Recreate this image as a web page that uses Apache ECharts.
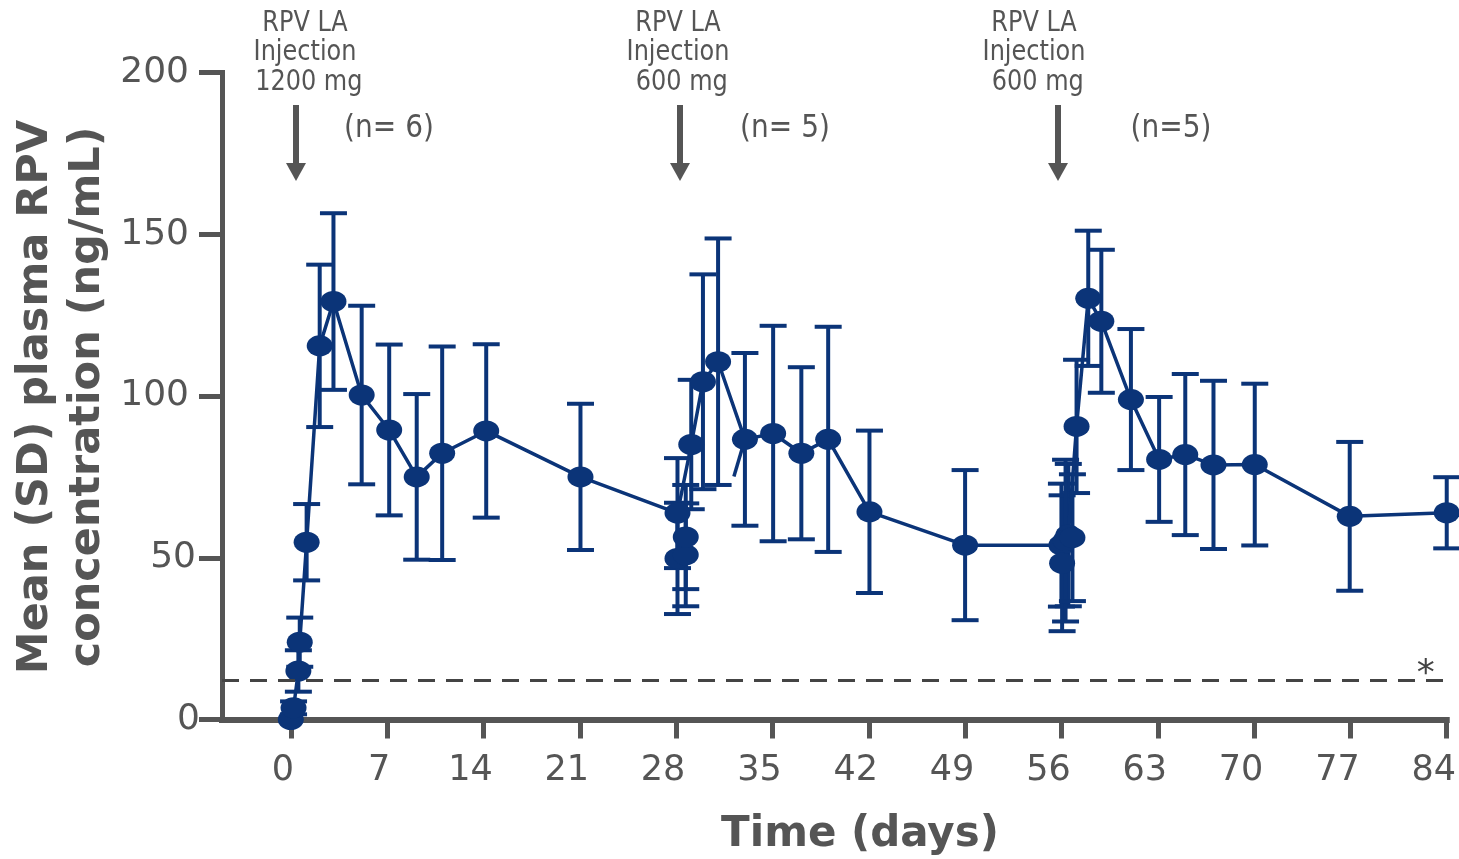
<!DOCTYPE html>
<html>
<head>
<meta charset="utf-8">
<script src="https://cdn.jsdelivr.net/npm/echarts@6/dist/echarts.min.js"></script>
<style>
  html, body { margin: 0; padding: 0; background: #ffffff; }
  #chart { width: 1459px; height: 859px; }
</style>
</head>
<body>
<div id="chart"></div>
<script>
// Mean (SD) plasma rilpivirine concentration after long-acting injections
const days = [0, 0.2, 0.55, 0.65, 1.15, 2.1, 3.1, 5.15, 7.15, 9.15, 11.0, 14.2, 21.05,
  28.1, 29.1, 29.95, 31.05, 33.0, 35.05, 37.1, 39.05, 42.05, 49.0,
  56.0, 56.5, 57.1, 57.95, 58.9, 61.05, 63.1, 65.0, 67.05, 70.05, 76.95, 84.0];
const meanConc = [0, 3.6, 15.0, 23.9, 54.8, 115.5, 129.2, 100.3, 89.5, 75.0, 82.3, 89.2, 75.0,
  63.8, 85.0, 104.4, 110.6, 86.6, 88.4, 82.3, 86.6, 64.2, 53.9,
  53.9, 57.0, 90.6, 130.2, 123.1, 98.9, 80.4, 81.9, 78.7, 78.8, 62.8, 63.9];
const sdConc = [0, 2.0, 6.4, 7.6, 11.8, 25.1, 27.3, 27.6, 26.4, 25.6, 33.0, 26.8, 22.6,
  17.0, 20.0, 33.2, 38.1, 26.7, 33.3, 26.6, 34.8, 25.1, 23.2,
  19.0, 22.0, 20.6, 20.9, 22.1, 21.8, 19.3, 24.9, 26.0, 25.0, 23.0, 11.0];

// Additional early post-dose samples around the second and third injections
const extraDays = [28.1, 28.7, 28.7, 56.05, 56.3, 56.8];
const extraConc = [49.8, 50.9, 56.4, 48.3, 55.3, 56.2];
const extraSd = [17.2, 15.9, 16.1, 21.0, 25.0, 19.6];

// Short connecting segment before day 33
const stubDays = [32.2, 33.0];
const stubConc = [75.1, 86.6];

const xTickValues = [0, 7, 14, 21, 28, 35, 42, 49, 56, 63, 70, 77, 84];
const thresholdConc = 12;

const injectionLabels = ['RPV LA\nInjection\n 1200 mg', 'RPV LA\nInjection\n 600 mg', 'RPV LA\nInjection\n 600 mg'];
const cohortLabels = ['(n= 6)', '(n= 5)', '(n=5)'];

// Layout for the injection annotations (pixels)
const annotLayout = [
  { textX: 305, arrowX: 296, nX: 389 },
  { textX: 678, arrowX: 680, nX: 785 },
  { textX: 1034, arrowX: 1058, nX: 1171 }
];

const NAVY = '#0b3478';
const GREY = '#555555';
const FONT = '"DejaVu Sans", Verdana, sans-serif';

const chart = echarts.init(document.getElementById('chart'), null, { renderer: 'canvas' });

function errorBars(name, xs, ms, sds) {
  return {
    type: 'custom',
    name: name,
    silent: true,
    z: 2,
    encode: { x: 0, y: 1 },
    data: xs.map((d, i) => [d, ms[i], sds[i]]),
    renderItem: function (params, api) {
      const x = api.value(0), m = api.value(1), s = api.value(2);
      if (!s) return null;
      const hi = api.coord([x, m + s]);
      const lo = api.coord([x, m - s]);
      const hw = 13.5;
      const style = { stroke: NAVY, lineWidth: 4, fill: null };
      return {
        type: 'group',
        children: [
          { type: 'line', shape: { x1: hi[0], y1: hi[1], x2: lo[0], y2: lo[1] }, style: style },
          { type: 'line', shape: { x1: hi[0] - hw, y1: hi[1], x2: hi[0] + hw, y2: hi[1] }, style: style },
          { type: 'line', shape: { x1: lo[0] - hw, y1: lo[1], x2: lo[0] + hw, y2: lo[1] }, style: style }
        ]
      };
    }
  };
}

const graphics = [];
// Axis titles
graphics.push({
  type: 'text', x: 62, y: 397, rotation: Math.PI / 2,
  style: {
    text: 'Mean (SD) plasma RPV\nconcentration (ng/mL)',
    fontSize: 43, fontWeight: 'bold', fontFamily: FONT, fill: GREY,
    align: 'center', verticalAlign: 'middle', textAlign: 'center', textVerticalAlign: 'middle',
    lineHeight: 52
  }
});
graphics.push({
  type: 'text', x: 860, y: 835,
  style: {
    text: 'Time (days)', fontSize: 42, fontWeight: 'bold', fontFamily: FONT, fill: GREY,
    align: 'center', verticalAlign: 'middle', textAlign: 'center', textVerticalAlign: 'middle'
  }
});
// Injection annotations with arrows
annotLayout.forEach((L, i) => {
  graphics.push({
    type: 'text', x: L.textX, y: 53, scaleY: 1.17,
    style: {
      text: injectionLabels[i], fontSize: 24, fontFamily: FONT, fill: GREY,
      align: 'center', verticalAlign: 'middle', textAlign: 'center', textVerticalAlign: 'middle',
      lineHeight: 25
    }
  });
  graphics.push({
    type: 'text', x: L.nX, y: 129, scaleY: 1.15,
    style: {
      text: cohortLabels[i], fontSize: 28, fontFamily: FONT, fill: GREY,
      align: 'center', verticalAlign: 'middle', textAlign: 'center', textVerticalAlign: 'middle'
    }
  });
  graphics.push({
    type: 'line', shape: { x1: L.arrowX, y1: 105, x2: L.arrowX, y2: 165 },
    style: { stroke: GREY, lineWidth: 6 }
  });
  graphics.push({
    type: 'polygon',
    shape: { points: [[L.arrowX - 10, 163], [L.arrowX + 10, 163], [L.arrowX, 181]] },
    style: { fill: GREY }
  });
});

const yRich = {
  w: { fontSize: 36, fontFamily: FONT, color: GREY, padding: [0, 11, 0, 0] },
  m: { fontSize: 36, fontFamily: FONT, color: GREY, padding: [0, 4, 0, 0] },
  z: { fontSize: 36, fontFamily: FONT, color: GREY, padding: [0, 0, 0, 0] }
};
const xRich = {
  s: { fontSize: 35, fontFamily: FONT, color: GREY, padding: [0, 16, 0, 0] },
  d: { fontSize: 35, fontFamily: FONT, color: GREY, padding: [0, 26, 0, 0] }
};

chart.setOption({
  animation: false,
  backgroundColor: '#ffffff',
  grid: { left: 222, right: 12, top: 72.5, bottom: 139.5 },
  xAxis: {
    type: 'value', min: -5, max: 84,
    axisLine: { show: true, onZero: false, lineStyle: { color: GREY, width: 6, cap: 'square' } },
    axisTick: { show: true, customValues: xTickValues, length: 19, lineStyle: { color: GREY, width: 5 } },
    axisLabel: {
      customValues: xTickValues, margin: 34, color: GREY, fontSize: 35, fontFamily: FONT,
      formatter: v => (v < 10 ? '{s|' + v + '}' : '{d|' + v + '}'),
      rich: xRich
    },
    splitLine: { show: false }
  },
  yAxis: {
    type: 'value', min: 0, max: 200, interval: 50,
    axisLine: { show: true, onZero: false, lineStyle: { color: GREY, width: 5, cap: 'square' } },
    axisTick: { show: true, length: 23, lineStyle: { color: GREY, width: 5 } },
    axisLabel: {
      margin: 22, color: GREY, fontSize: 36, fontFamily: FONT,
      formatter: v => (v >= 100 ? '{w|' + v + '}' : v > 0 ? '{m|' + v + '}' : '{z|' + v + '}'),
      rich: yRich
    },
    splitLine: { show: false }
  },
  graphic: graphics,
  series: [
    errorBars('sdMain', days, meanConc, sdConc),
    errorBars('sdExtra', extraDays, extraConc, extraSd),
    {
      type: 'line', name: 'stub', z: 3, silent: true,
      data: stubDays.map((d, i) => [d, stubConc[i]]),
      symbol: 'none',
      lineStyle: { color: NAVY, width: 3.5 },
      markLine: {
        silent: true, symbol: ['none', 'none'],
        lineStyle: { type: [17, 11], width: 3, color: '#444444' },
        label: {
          show: true, formatter: '*', position: 'insideEndTop', distance: [12, -12],
          fontSize: 36, fontFamily: FONT, color: '#444444'
        },
        data: [{ yAxis: thresholdConc }]
      }
    },
    {
      type: 'line', name: 'mean', z: 4, silent: true,
      data: days.map((d, i) => [d, meanConc[i]]),
      symbol: 'circle', symbolSize: [26, 21], showAllSymbol: true,
      itemStyle: { color: NAVY },
      lineStyle: { color: NAVY, width: 3.5 }
    },
    {
      type: 'scatter', name: 'extra', z: 5, silent: true,
      data: extraDays.map((d, i) => [d, extraConc[i]]),
      symbol: 'circle', symbolSize: [26, 21],
      itemStyle: { color: NAVY, opacity: 1 }
    }
  ]
});
</script>
</body>
</html>
